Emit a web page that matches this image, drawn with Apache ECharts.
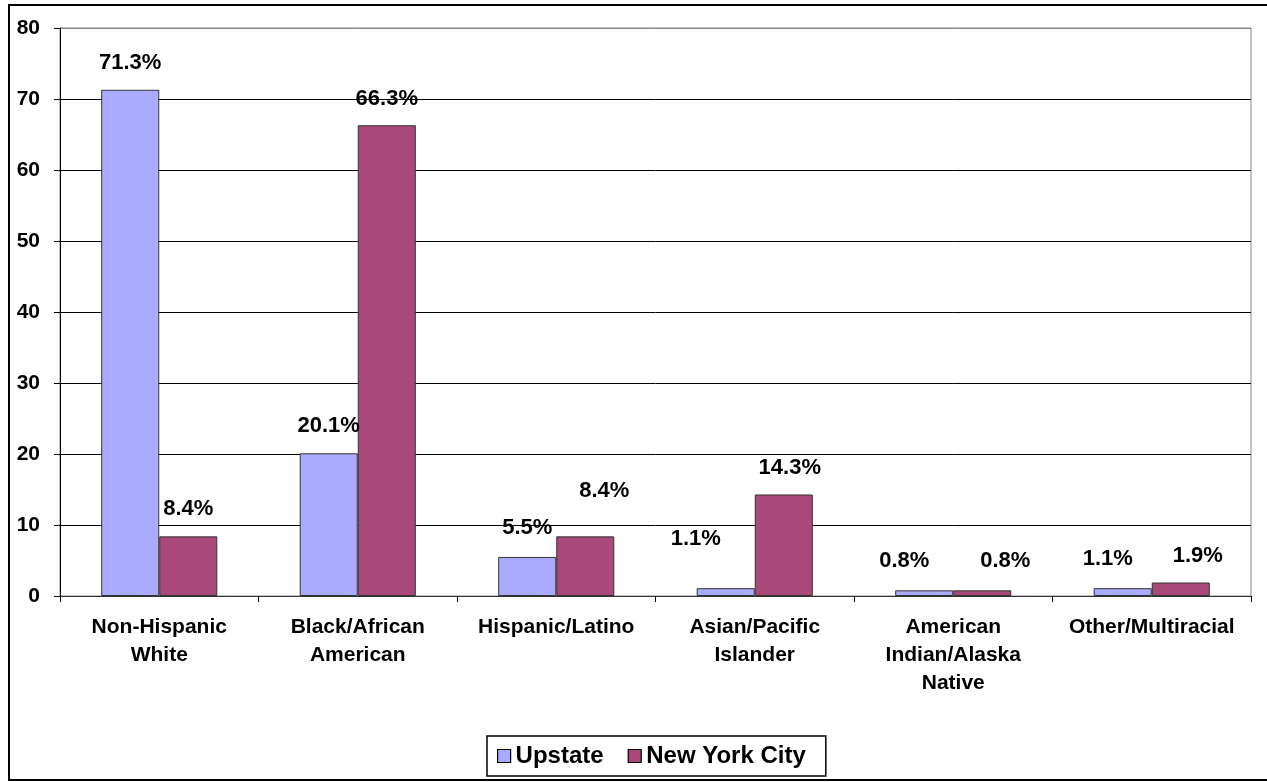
<!DOCTYPE html>
<html>
<head>
<meta charset="utf-8">
<style>html,body{margin:0;padding:0;background:#fff;}#c{width:1267px;height:782px;}</style>
<script src="https://cdn.jsdelivr.net/npm/echarts@6/dist/echarts.min.js"></script>
</head>
<body>
<div id="c"></div>
<script>
const categories = ["Non-Hispanic\nWhite", "Black/African\nAmerican", "Hispanic/Latino", "Asian/Pacific\nIslander", "American\nIndian/Alaska\nNative", "Other/Multiracial"];
const seriesNames = ["Upstate", "New York City"];
const upstate = [71.3, 20.1, 5.5, 1.1, 0.8, 1.1];
const nyc = [8.4, 66.3, 8.4, 14.3, 0.8, 1.9];
const yTicks = [0, 10, 20, 30, 40, 50, 60, 70, 80];

// label nudges (style only)
const upOffsets = [[0,0],[0,0],[0,-2],[-30,-22],[-20,-2],[-15,-2]];
const nycOffsets = [[0,0],[0,1],[19,-18],[6,0],[23,-2],[17,0]];

const FONT = '"Liberation Sans", Arial, sans-serif';
const chart = echarts.init(document.getElementById('c'), null, {renderer: 'canvas'});

function mk(vals, offs) {
  return vals.map((v, i) => ({value: v, label: {offset: offs[i]}}));
}

const lbl = {
  show: true, position: 'top', distance: 16,
  formatter: p => p.value.toFixed(1) + '%',
  fontFamily: FONT, fontWeight: 'bold', fontSize: 22, color: '#000'
};

chart.setOption({
  animation: false,
  backgroundColor: '#fff',
  graphic: [{
    type: 'rect', shape: {x: 9, y: 5, width: 1300, height: 775},
    style: {fill: 'none', stroke: '#000', lineWidth: 2}, silent: true, z: 100
  }],
  grid: {left: 60, right: 16, top: 28, bottom: 186, show: true, borderColor: '#888', borderWidth: 1},
  legend: {
    bottom: 6, left: 487,
    data: seriesNames,
    icon: 'rect',
    itemWidth: 13, itemHeight: 13, itemGap: 24,
    padding: [8, 20, 8, 10],
    borderColor: '#000', borderWidth: 1.5,
    textStyle: {fontFamily: FONT, fontWeight: 'bold', fontSize: 24, color: '#000'},
    itemStyle: {borderColor: '#000', borderWidth: 1.2}
  },
  xAxis: {
    type: 'category', data: categories,
    axisLine: {lineStyle: {color: '#333', width: 1}},
    axisTick: {show: true, length: 6, lineStyle: {color: '#000'}},
    axisLabel: {margin: 17, fontFamily: FONT, fontWeight: 'bold', fontSize: 21, color: '#000', lineHeight: 28, interval: 0}
  },
  yAxis: {
    type: 'value', min: yTicks[0], max: yTicks[yTicks.length - 1], interval: 10,
    axisLine: {show: true, lineStyle: {color: '#000', width: 1}},
    axisTick: {show: true, length: 6, lineStyle: {color: '#000'}},
    axisLabel: {margin: 20, fontFamily: FONT, fontWeight: 'bold', fontSize: 21, color: '#000'},
    splitLine: {show: true, lineStyle: {color: ['#000','#000','#000','#000','#000','#000','#000','#000','#888'], width: 1}}
  },
  series: [
    {
      name: seriesNames[0], type: 'bar', data: mk(upstate, upOffsets),
      barGap: '0%', barCategoryGap: '41.5%',
      itemStyle: {color: '#AAAAFF', borderColor: '#333', borderWidth: 1},
      label: lbl
    },
    {
      name: seriesNames[1], type: 'bar', data: mk(nyc, nycOffsets),
      barGap: '0%', barCategoryGap: '41.5%',
      itemStyle: {color: '#A8497A', borderColor: '#333', borderWidth: 1},
      label: lbl
    }
  ]
});
</script>
</body>
</html>
